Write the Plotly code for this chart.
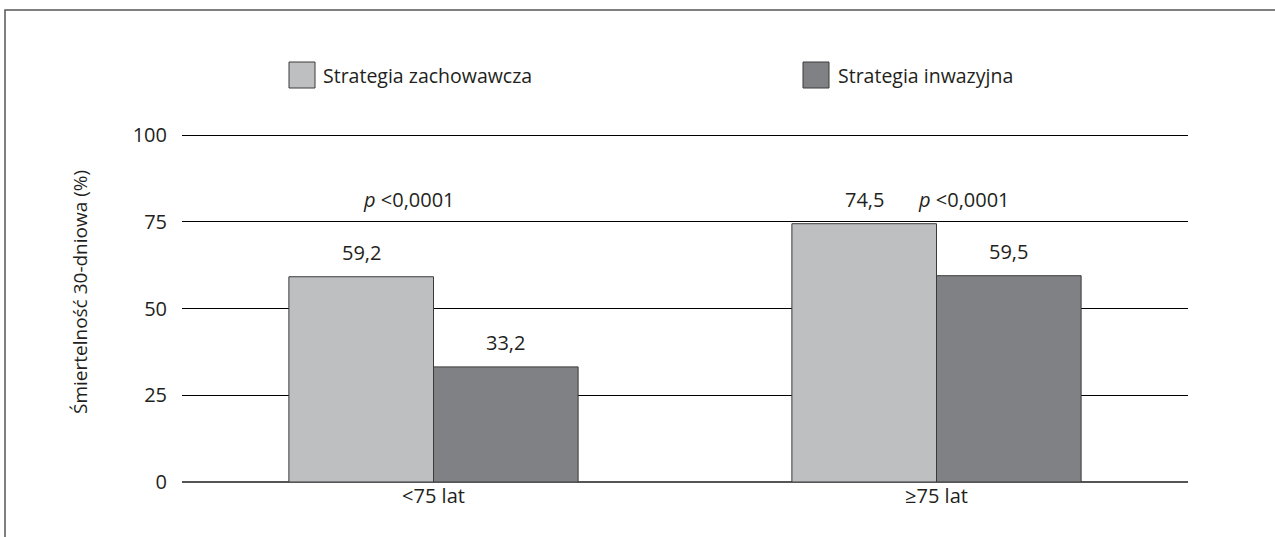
import plotly.graph_objects as go

# Data
categories = ["<75 lat", "≥75 lat"]
series_names = ["Strategia zachowawcza", "Strategia inwazyjna"]
conservative = [59.2, 74.5]
invasive = [33.2, 59.5]
p_labels = ["<i>p</i> &lt;0,0001", "<i>p</i> &lt;0,0001"]
y_ticks = [0, 25, 50, 75, 100]
y_title = "Śmiertelność 30-dniowa (%)"

colors = ["#bebfc1", "#808184"]
edge = "#3a3a3a"
text_color = "#231f20"
font_family = "Open Sans, Noto Sans, sans-serif"
fs = 20

# Plot area in pixels (figure is 1275 x 537)
W, H = 1275, 537
L, R, T, B = 182, 87, 133, 55
pw, ph = W - L - R, H - T - B
px_per_unit = 3.467
y_top = ph / px_per_unit


def px_x(px):
    return (px - L) / pw


def px_y(py):
    return (H - B - py) / ph


def fmt(v):
    return f"{v:.1f}".replace(".", ",")


fig = go.Figure()
for name, vals, col in zip(series_names, [conservative, invasive], colors):
    fig.add_trace(go.Bar(
        x=categories, y=vals, name=name,
        marker=dict(color=col, line=dict(color=edge, width=1)),
        showlegend=False,
    ))

annotations = []
# Value labels above each bar
bar_offset = 72
for vals, shift in [(conservative, -bar_offset), (invasive, bar_offset)]:
    for cat, v in zip(categories, vals):
        annotations.append(dict(
            x=cat, y=v, xref="x", yref="y", text=fmt(v),
            showarrow=False, xshift=shift, yshift=24, yanchor="middle",
            font=dict(size=fs, color=text_color, family=font_family),
        ))

# Significance labels
for cat, lab, shift in zip(categories, p_labels, [-25, 27]):
    annotations.append(dict(
        x=cat, y=81.5, xref="x", yref="y", text=lab,
        showarrow=False, xshift=shift, yanchor="middle",
        font=dict(size=fs, color=text_color, family=font_family),
    ))

# Y-axis title
annotations.append(dict(
    x=px_x(80), y=px_y(292), xref="paper", yref="paper", text=y_title,
    textangle=-90, showarrow=False, xanchor="center", yanchor="middle",
    font=dict(size=19, color=text_color, family=font_family),
))

# Custom legend: large swatches with labels
shapes = []
legend_items = [(289, 321), (803, 836)]
for (bx, tx), name, col in zip(legend_items, series_names, colors):
    shapes.append(dict(
        type="rect", xref="paper", yref="paper",
        x0=px_x(bx), x1=px_x(bx + 26), y0=px_y(88), y1=px_y(62),
        fillcolor=col, line=dict(color=edge, width=1),
    ))
    annotations.append(dict(
        x=px_x(tx), y=px_y(75), xref="paper", yref="paper", text=name,
        showarrow=False, xanchor="left", yanchor="middle",
        font=dict(size=19.5, color=text_color, family=font_family),
    ))

# Outer frame around the figure
shapes.append(dict(
    type="rect", xref="paper", yref="paper",
    x0=px_x(5), x1=px_x(1290), y0=px_y(560), y1=px_y(10),
    line=dict(color="#555555", width=1.5), fillcolor="rgba(0,0,0,0)",
    layer="below",
))

fig.update_layout(
    width=W, height=H,
    margin=dict(l=L, r=R, t=T, b=B, autoexpand=False),
    paper_bgcolor="white", plot_bgcolor="white",
    barmode="group", bargap=0.425, bargroupgap=0,
    font=dict(family=font_family, size=fs, color=text_color),
    annotations=annotations, shapes=shapes,
    xaxis=dict(
        showgrid=False, showline=False, ticks="",
        tickfont=dict(size=fs, color=text_color),
        ticklabelstandoff=0,
    ),
    yaxis=dict(
        range=[0, y_top], tickvals=y_ticks, ticktext=[str(t) for t in y_ticks],
        showgrid=True, gridcolor="#000000", gridwidth=1,
        zeroline=True, zerolinecolor="#555555", zerolinewidth=1.5,
        showline=False, ticks="",
        tickfont=dict(size=fs, color=text_color),
        ticklabelstandoff=14,
    ),
)

fig.write_html("out.html")
